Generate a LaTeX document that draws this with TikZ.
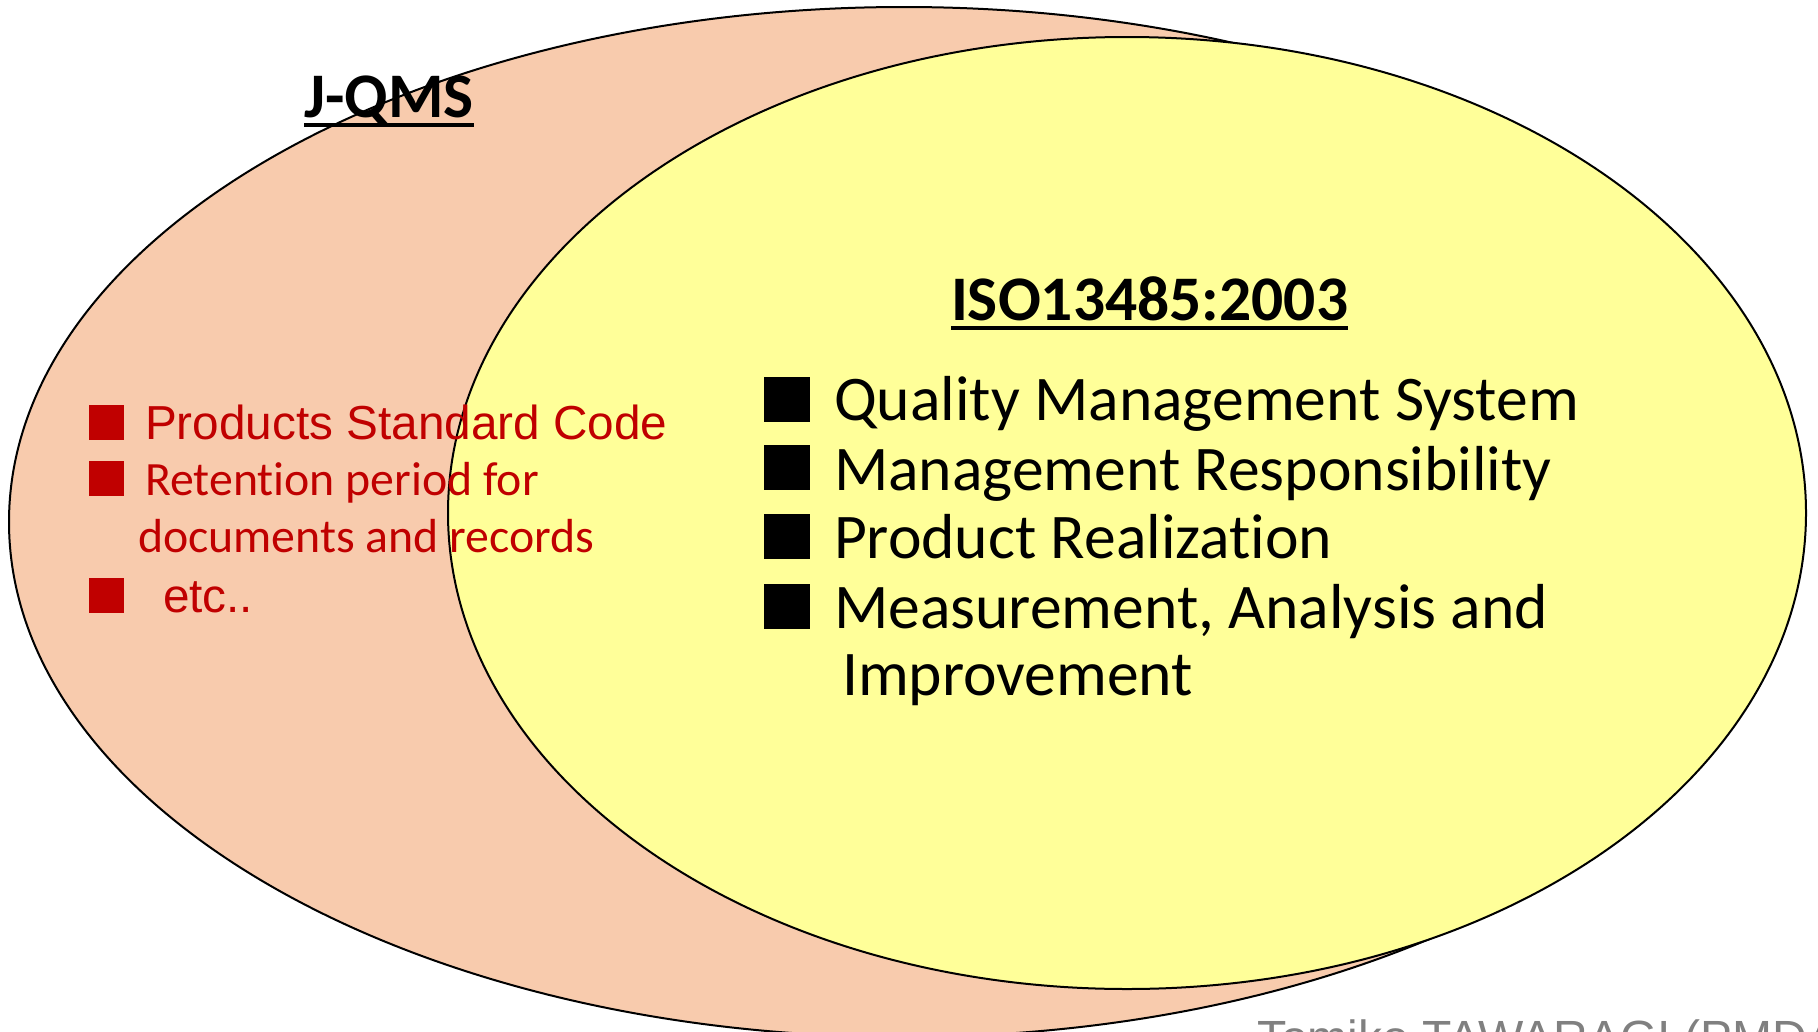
\documentclass[tikz,border=0pt]{standalone}
\usepackage{fontspec}
\setmainfont[Ligatures=NoCommon]{Carlito}
\newfontfamily\arialfont{Liberation Sans}
\definecolor{qmsorange}{HTML}{F8CBAD}
\definecolor{qmsyellow}{HTML}{FFFF99}
\definecolor{qmsred}{HTML}{C00000}
\definecolor{qmsgray}{HTML}{808080}
\tikzset{
  txt/.style={inner sep=0pt, outer sep=0pt, anchor=base west},
  titletxt/.style={txt, font=\fontsize{63.5}{75}\selectfont\bfseries},
  itemtxt/.style={txt, font=\fontsize{63.6}{75}\selectfont},
  redtxt/.style={txt, text=qmsred, font=\fontsize{47.8}{56}\selectfont},
  redarial/.style={txt, text=qmsred, font=\arialfont\fontsize{47.7}{56}\selectfont},
  bsq/.style={fill=black, minimum width=46pt, minimum height=45pt, inner sep=0pt, outer sep=0pt, anchor=north west},
  rsq/.style={fill=qmsred, minimum size=35pt, inner sep=0pt, outer sep=0pt, anchor=north west},
  setline/.style={draw=black, line width=2pt},
  uline/.style={line width=3.3pt}
}
\begin{document}
\begin{tikzpicture}[x=1pt,y=-1pt]
\useasboundingbox (0,0) rectangle (1818,1031);
\clip (0,0) rectangle (1818,1031);
% sets
\draw[setline, fill=qmsorange] (904,522) ellipse [x radius=895, y radius=515];
\draw[setline, fill=qmsyellow] (1127,513) ellipse [x radius=679, y radius=476];
% titles
\node[titletxt] (jqms) at (304,117) {J-QMS};
\draw[uline] ([yshift=-8pt]jqms.base west) -- ([yshift=-8pt]jqms.base east);
\node[titletxt] (iso) at (951,320) {ISO13485:2003};
\draw[uline] ([yshift=-8pt]iso.base west) -- ([yshift=-8pt]iso.base east);
% ISO items
\node[bsq] (b1) at (764,377) {};
\node[itemtxt] (i1) at (834,420) {Quality Management System};
\node[bsq] (b2) at (764,445) {};
\node[itemtxt] (i2) at (834,490) {Management Responsibility};
\node[bsq] (b3) at (764,514) {};
\node[itemtxt] (i3) at (834,558) {Product Realization};
\node[bsq] (b4) at (764,584) {};
\node[itemtxt] (i4) at (834,628) {Measurement, Analysis and};
\node[itemtxt] (i5) at (842,695) {Improvement};
% J-QMS items
\node[rsq] (r1) at (89,405) {};
\node[redarial] (j1) at (145,439) {Products Standard Code};
\node[rsq] (r2) at (89,461) {};
\node[redtxt] (j2) at (145,495) {Retention period for};
\node[redtxt] (j3) at (138,552) {documents and records};
\node[rsq] (r3) at (89,578) {};
\node[redarial] (j4) at (163,612) {etc..};
% footer (cut off by the lower edge, as in the original)
\node[txt, text=qmsgray, font=\arialfont\fontsize{48}{56}\selectfont] (foot) at (1257,1054) {Tomiko TAWARAGI (PMDA)};
\end{tikzpicture}
\end{document}
